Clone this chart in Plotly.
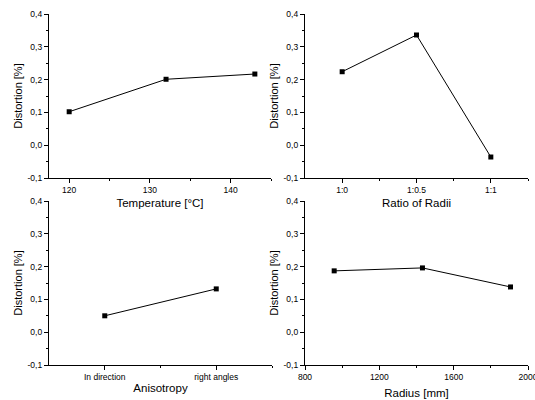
import plotly.graph_objects as go

# Distortion measurements for four process parameters
temperature_c = [120, 132, 143]
temperature_distortion = [0.102, 0.201, 0.217]

radii_ratio = ["1:0", "1:0.5", "1:1"]
radii_distortion = [0.224, 0.336, -0.036]

anisotropy = ["In direction", "right angles"]
anisotropy_distortion = [0.050, 0.132]

radius_mm = [957, 1432, 1906]
radius_distortion = [0.187, 0.196, 0.138]

y_tickvals = [-0.1, 0.0, 0.1, 0.2, 0.3, 0.4]
y_ticktext = ["-0,1", "0,0", "0,1", "0,2", "0,3", "0,4"]

W, H = 535, 400
FAMILY = "Arial, Liberation Sans, sans-serif"
TITLE_FONT = dict(family=FAMILY, size=11.5, color="black")
TICK_FONT = dict(family=FAMILY, size=8.5, color="black")
CAT_FONT = dict(family=FAMILY, size=8.5, color="black")

fig = go.Figure()

panels = [
    (temperature_c, temperature_distortion, "x", "y"),
    (list(range(len(radii_ratio))), radii_distortion, "x2", "y2"),
    (list(range(len(anisotropy))), anisotropy_distortion, "x3", "y3"),
    (radius_mm, radius_distortion, "x4", "y4"),
]
for xs, ys, xa, ya in panels:
    fig.add_trace(go.Scatter(
        x=xs, y=ys, xaxis=xa, yaxis=ya, mode="lines+markers",
        line=dict(color="black", width=1),
        marker=dict(symbol="square", size=5, color="black"),
        showlegend=False, cliponaxis=False,
    ))

# pixel boxes of the four plotting areas (left, right, top, bottom)
boxes = [(49, 271, 14, 178), (305, 528, 14, 178), (49, 272, 201, 365), (305, 528, 201, 365)]

def xdom(b):
    return [b[0] / W, b[1] / W]

def ydom(b):
    return [1 - b[3] / H, 1 - b[2] / H]

def minor(**kw):
    return dict(ticks="outside", ticklen=2, tickwidth=1, tickcolor="black", **kw)

axis_common = dict(
    showline=True, linecolor="black", linewidth=1.3, mirror=False,
    ticks="outside", ticklen=4, tickwidth=1, tickcolor="black",
    showgrid=False, zeroline=False, tickfont=TICK_FONT, automargin=False,
)

y_common = dict(
    axis_common, range=[-0.1, 0.4], tickvals=y_tickvals, ticktext=y_ticktext,
    minor=minor(dtick=0.05),
    title=dict(text="Distortion [%]", standoff=2, font=dict(TITLE_FONT, size=11)),
)

fig.update_layout(
    template="none",
    width=W, height=H, margin=dict(l=0, r=0, t=0, b=0),
    paper_bgcolor="white", plot_bgcolor="white",
    xaxis=dict(axis_common, domain=xdom(boxes[0]), anchor="y", range=[117.5, 145],
               tickvals=[120, 130, 140], minor=minor(tickvals=[125, 135, 145]),
               title=dict(text="Temperature [°C]", standoff=4, font=TITLE_FONT)),
    yaxis=dict(y_common, domain=ydom(boxes[0]), anchor="x"),
    xaxis2=dict(axis_common, domain=xdom(boxes[1]), anchor="y2", range=[-0.5, 2.5],
                tickvals=list(range(len(radii_ratio))), ticktext=radii_ratio,
                minor=minor(tickvals=[0.5, 1.5, 2.5]),
                title=dict(text="Ratio of Radii", standoff=4, font=TITLE_FONT)),
    yaxis2=dict(y_common, domain=ydom(boxes[1]), anchor="x2"),
    xaxis3=dict(axis_common, domain=xdom(boxes[2]), anchor="y3", range=[-0.5, 1.5],
                tickvals=list(range(len(anisotropy))), ticktext=anisotropy,
                tickfont=CAT_FONT, minor=minor(tickvals=[0.5, 1.5]),
                title=dict(text="Anisotropy", standoff=2, font=TITLE_FONT)),
    yaxis3=dict(y_common, domain=ydom(boxes[2]), anchor="x3"),
    xaxis4=dict(axis_common, domain=xdom(boxes[3]), anchor="y4", range=[800, 2000],
                tickvals=[800, 1200, 1600, 2000], ticklabeloverflow="allow",
                minor=minor(tickvals=[1000, 1400, 1800]),
                title=dict(text="Radius [mm]", standoff=7, font=TITLE_FONT)),
    yaxis4=dict(y_common, domain=ydom(boxes[3]), anchor="x4"),
)

fig.write_html("out.html")
